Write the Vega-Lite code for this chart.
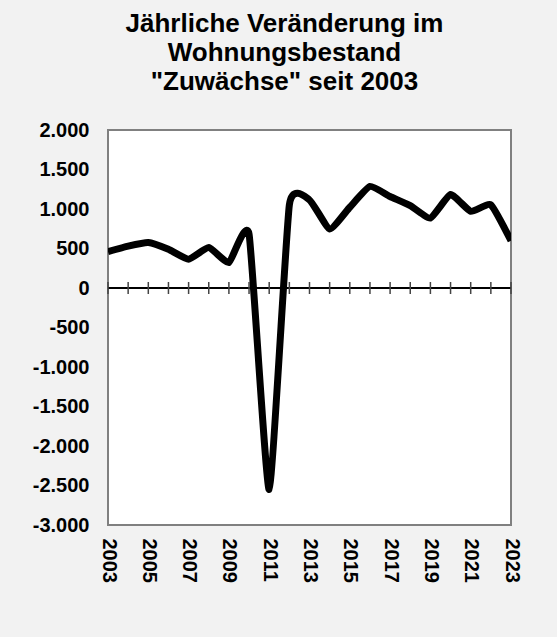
{
  "$schema": "https://vega.github.io/schema/vega-lite/v6.json",
  "width": 403,
  "height": 395,
  "autosize": {"type": "none"},
  "padding": {"left": 108, "top": 130, "right": 46, "bottom": 112},
  "background": "#f2f2f2",
  "title": {
    "text": ["Jährliche Veränderung im", "Wohnungsbestand", "\"Zuwächse\" seit 2003"],
    "font": "Liberation Sans",
    "fontSize": 26,
    "fontWeight": "bold",
    "color": "#000000",
    "lineHeight": 29,
    "anchor": "middle",
    "frame": "group",
    "dx": -25,
    "offset": 25
  },
  "config": {
    "view": {"stroke": "#808080", "strokeWidth": 2, "fill": "#ffffff"},
    "axis": {
      "title": null,
      "labelFont": "Liberation Sans",
      "labelFontSize": 20,
      "labelFontWeight": "bold",
      "labelColor": "#000000",
      "labelOverlap": false,
      "labelFlush": false,
      "ticks": false,
      "domain": false,
      "grid": false
    },
    "axisY": {
      "values": [-3000, -2500, -2000, -1500, -1000, -500, 0, 500, 1000, 1500, 2000],
      "labelExpr": "(datum.value < 0 ? '-' : '') + replace(format(abs(datum.value), ','), ',', '.')",
      "labelPadding": 19
    }
  },
  "data": {
    "values": [
      {"year": 2003, "value": 460},
      {"year": 2004, "value": 530},
      {"year": 2005, "value": 576},
      {"year": 2006, "value": 490},
      {"year": 2007, "value": 365},
      {"year": 2008, "value": 513},
      {"year": 2009, "value": 322},
      {"year": 2010, "value": 683},
      {"year": 2011, "value": -2550},
      {"year": 2012, "value": 1050},
      {"year": 2013, "value": 1115},
      {"year": 2014, "value": 747},
      {"year": 2015, "value": 1022},
      {"year": 2016, "value": 1285},
      {"year": 2017, "value": 1158},
      {"year": 2018, "value": 1043},
      {"year": 2019, "value": 886},
      {"year": 2020, "value": 1183},
      {"year": 2021, "value": 971},
      {"year": 2022, "value": 1052},
      {"year": 2023, "value": 598}
    ]
  },
  "encoding": {
    "x": {
      "field": "year",
      "type": "quantitative",
      "title": null,
      "scale": {"domain": [2003, 2023], "nice": false, "zero": false},
      "axis": {
        "title": null,
        "values": [2003, 2005, 2007, 2009, 2011, 2013, 2015, 2017, 2019, 2021, 2023],
        "format": "d",
        "labelAngle": 90,
        "labelAlign": "left",
        "labelBaseline": "middle",
        "labelPadding": 13
      }
    }
  },
  "layer": [
    {
      "mark": {"type": "line", "interpolate": "cardinal", "tension": 0.55, "color": "#000000", "strokeWidth": 7, "strokeJoin": "round", "strokeCap": "butt", "clip": true},
      "encoding": {
        "y": {
          "field": "value",
          "type": "quantitative",
          "title": null,
          "scale": {"domain": [-3000, 2000], "nice": false},
          "axis": {"title": null}
        }
      }
    },
    {
      "mark": {"type": "rule", "color": "#000000", "strokeWidth": 1.5},
      "encoding": {
        "x": null,
        "y": {"datum": 0, "type": "quantitative", "title": null, "axis": {"title": null}}
      }
    },
    {
      "mark": {"type": "tick", "orient": "vertical", "size": 12, "thickness": 1.5, "color": "#444444", "opacity": 1},
      "encoding": {
        "y": {"datum": 0, "type": "quantitative", "title": null, "axis": {"title": null}}
      }
    }
  ]
}
